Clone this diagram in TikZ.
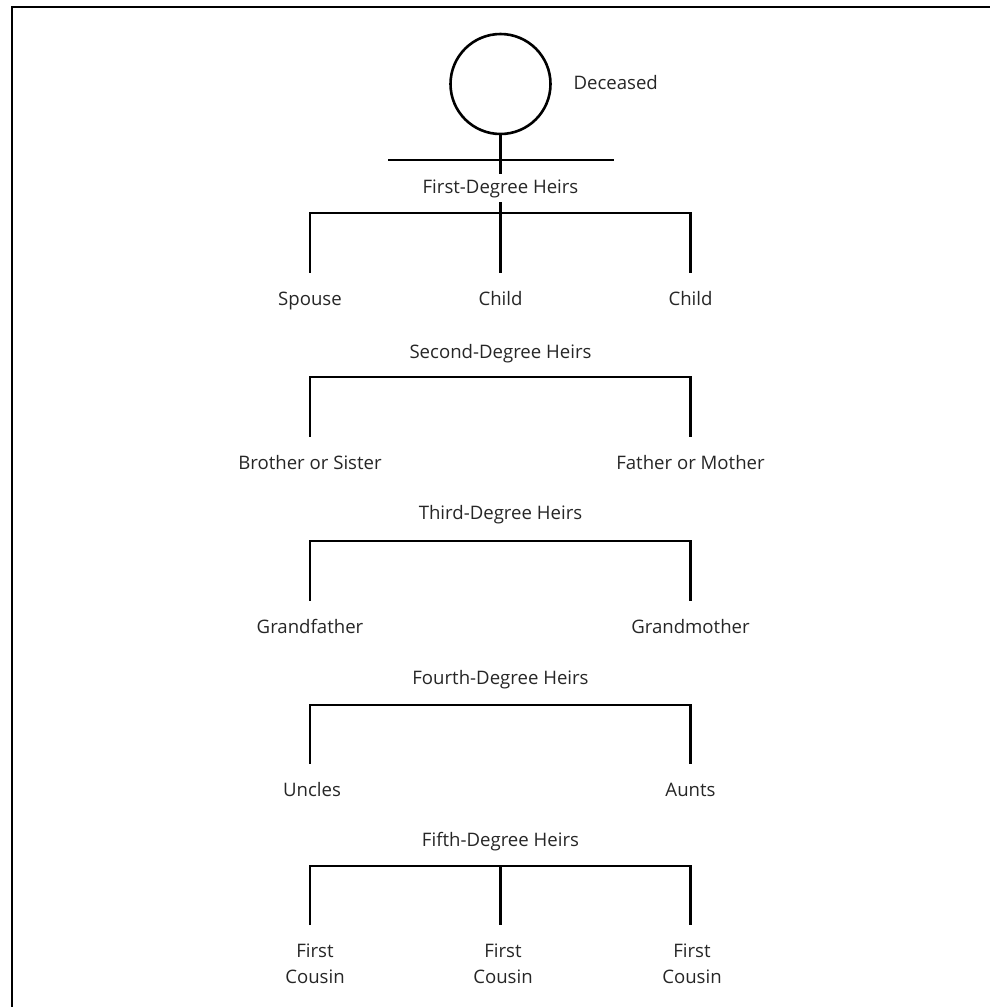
\documentclass[tikz,border=0pt]{standalone}
\usepackage{fontspec}
\setmainfont{Open Sans}
\usetikzlibrary{positioning, calc}
\tikzstyle{person} = [circle, draw=black, line width=2.6pt, minimum size=100pt, inner sep=0pt]
\tikzstyle{degree} = [text height=13.5pt, text depth=3.5pt, inner xsep=2pt, inner ysep=5.5pt, text=black!85]
\tikzstyle{heir} = [text height=13.5pt, text depth=3.5pt, inner xsep=2pt, inner ysep=18.5pt, text=black!85]
\tikzstyle{cousin} = [anchor=north, align=center, inner xsep=2pt, inner ysep=19pt, text=black!85]
\tikzstyle{branch} = [line width=2.8pt, line cap=butt]

\begin{document}
\begin{tikzpicture}[x=1pt, y=-1pt, font=\fontsize{18.6}{26}\selectfont]
\useasboundingbox (0,0) rectangle (990,1007);
\draw[line width=2pt] (990,7) -- (11.5,7) -- (11.5,1007);

\node(dead)[person] at (500.5,84) {};
\node(deadlbl)[anchor=west, text=black!85] at (570,83) {Deceased};
\coordinate(baseL) at (388,160);
\coordinate(baseR) at (614,160);

% first degree
\node(deg1)[degree] at (500.5,188) {First-Degree Heirs};
\node(spouse)[heir] at (310,300) {Spouse};
\node(child1)[heir] at (500.5,300) {Child};
\node(child2)[heir] at (690.5,300) {Child};
\coordinate(bar1) at (500.5,213);

% second degree
\node(deg2)[degree] at (500.5,353) {Second-Degree Heirs};
\node(sib)[heir] at (310,464) {Brother or Sister};
\node(parent)[heir] at (690.5,464) {Father or Mother};
\coordinate(bar2) at (500.5,377);

% third degree
\node(deg3)[degree] at (500.5,514) {Third-Degree Heirs};
\node(gpa)[heir] at (310,628) {Grandfather};
\node(gma)[heir] at (690.5,628) {Grandmother};
\coordinate(bar3) at (500.5,541);

% fourth degree
\node(deg4)[degree] at (500.5,679) {Fourth-Degree Heirs};
\node(uncles)[heir] at (312,791) {Uncles};
\node(aunts)[heir] at (690.5,791) {Aunts};
\coordinate(bar4) at (500.5,705);

% fifth degree
\node(deg5)[degree] at (500.5,841) {Fifth-Degree Heirs};
\node(cous1)[cousin] at (315,925) {First\\Cousin};
\node(cous2)[cousin] at (503,925) {First\\Cousin};
\node(cous3)[cousin] at (692,925) {First\\Cousin};
\coordinate(bar5) at (500.5,866);

\draw [branch] (baseL) -- (baseR);
\draw [branch] (dead) -- (deg1);
\draw [branch] (deg1) -- (child1);
\draw [branch] (spouse.north) |- (bar1) -| (child2.north);
\draw [branch] (sib.north) |- (bar2) -| (parent.north);
\draw [branch] (gpa.north) |- (bar3) -| (gma.north);
\draw [branch] (spouse.north |- uncles.north) |- (bar4) -| (aunts.north);
\draw [branch] (spouse.north |- cous1.north) |- (bar5) -| (child2.north |- cous3.north);
\draw [branch] (bar5) -- (bar5 |- cous2.north);
\end{tikzpicture}
\end{document}
